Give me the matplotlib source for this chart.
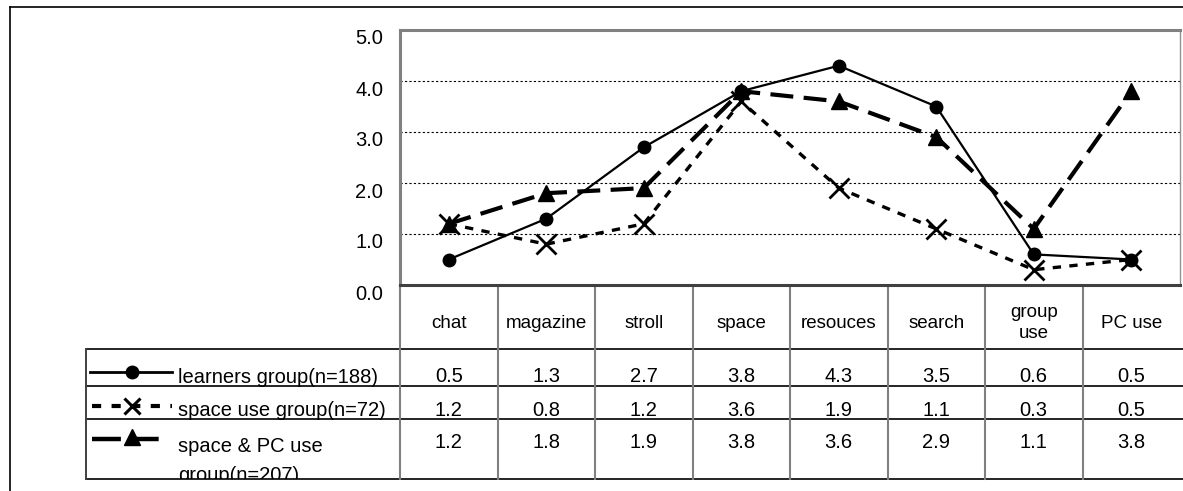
import matplotlib
matplotlib.use("Agg")
import matplotlib.pyplot as plt
from matplotlib.transforms import blended_transform_factory, ScaledTranslation

categories = ["chat", "magazine", "stroll", "space", "resouces", "search", "group\nuse", "PC use"]
learners = [0.5, 1.3, 2.7, 3.8, 4.3, 3.5, 0.6, 0.5]
space_use = [1.2, 0.8, 1.2, 3.6, 1.9, 1.1, 0.3, 0.5]
space_pc = [1.2, 1.8, 1.9, 3.8, 3.6, 2.9, 1.1, 3.8]
series_names = ["learners group(n=188)", "space use group(n=72)", "space & PC use\ngroup(n=207)"]
yticks = [0, 1, 2, 3, 4, 5]

plt.rcParams['font.family'] = ['Liberation Sans', 'DejaVu Sans']
FS = 14.5      # numbers and series names
FS_CAT = 13.5  # category headers
W, H = 1183, 491

fig = plt.figure(figsize=(W / 100, H / 100), dpi=100)

# background layer in pixel coordinates
bg = fig.add_axes([0, 0, 1, 1])
bg.set_xlim(0, W)
bg.set_ylim(H, 0)
bg.axis('off')
bg.plot([10, W], [7, 7], color='black', lw=1.2)
bg.plot([10, 10], [7, H], color='black', lw=1.2)

# main plot area: x 400..1180, y 30..285 px
L, R, T, B = 400, 1180, 30, 285
ax = fig.add_axes([L / W, (H - B) / H, (R - L) / W, (B - T) / H])
ax.set_xlim(-0.5, len(categories) - 0.5)
ax.set_ylim(0, 5)
ax.set_xticks([])
ax.set_yticks(yticks)
ax.set_yticklabels(["%.1f" % v for v in yticks], fontsize=FS)
ax.tick_params(axis='y', length=0, pad=12)
for lab in ax.get_yticklabels():
    lab.set_transform(lab.get_transform() + ScaledTranslation(0, -7 / 100, fig.dpi_scale_trans))
ax.yaxis.grid(True, color='black', lw=0.8, linestyle=(0, (2, 2)))
ax.set_axisbelow(True)
for side in ['left', 'top', 'bottom']:
    ax.spines[side].set_color('#808080')
    ax.spines[side].set_linewidth(2.2)
ax.spines['bottom'].set_color('#404040')
ax.spines['right'].set_color('#909090')
ax.spines['right'].set_linewidth(1)

xs = range(len(categories))
ax.plot(xs, learners, color='black', lw=1.6, marker='o', ms=9, clip_on=False, zorder=3)
ax.plot(xs, space_use, color='black', lw=2.4, linestyle=(0, (2.5, 2.5)),
        marker='x', ms=15, mew=2, clip_on=False, zorder=3)
ax.plot(xs, space_pc, color='black', lw=3, linestyle=(0, (5.5, 2.5)),
        marker='^', ms=11, clip_on=False, zorder=3)

# data table below the plot
tr = blended_transform_factory(ax.transData, bg.transData)
row_lines = [349, 386, 419, 479]
for y in row_lines:
    bg.plot([86, W], [y, y], color='black', lw=1.2)
bg.plot([86, 86], [349, 479], color='#404040', lw=1.4)
for i in range(len(categories)):
    bg.plot([i - 0.5, i - 0.5], [B, 479], color='#808080', lw=1.5, transform=tr)

for i, c in enumerate(categories):
    bg.text(i, 323, c, transform=tr, ha='center', va='center', fontsize=FS_CAT, linespacing=1.25)

row_text_y = [377, 410, 442]
for vals, y in zip([learners, space_use, space_pc], row_text_y):
    for i, v in enumerate(vals):
        bg.text(i, y, "%.1f" % v, transform=tr, ha='center', va='center', fontsize=FS)

# legend keys and series names, clipped to the table region
lg = fig.add_axes([86 / W, (H - 479) / H, (L - 86) / W, (479 - 349) / H])
lg.set_xlim(86, L)
lg.set_ylim(479, 349)
lg.axis('off')
lg.plot([90, 172], [372, 372], color='black', lw=2)
lg.plot([132], [372], marker='o', color='black', ms=9)
lg.plot([92, 172], [406, 406], color='black', lw=3, linestyle=(0, (2.2, 2.5)))
lg.plot([132], [406], marker='x', color='black', ms=11, mew=2.2)
lg.plot([92, 165], [439, 439], color='black', lw=3.2, linestyle=(0, (6.5, 2)))
lg.plot([132], [437], marker='^', color='black', ms=11)
lg.text(178, 378, series_names[0], ha='left', va='center', fontsize=FS, clip_on=True)
lg.text(178, 411, series_names[1], ha='left', va='center', fontsize=FS, clip_on=True)
lg.text(178, 437, series_names[2], ha='left', va='top', fontsize=FS, clip_on=True,
        linespacing=1.65)

fig.savefig("out.png", dpi=100)
